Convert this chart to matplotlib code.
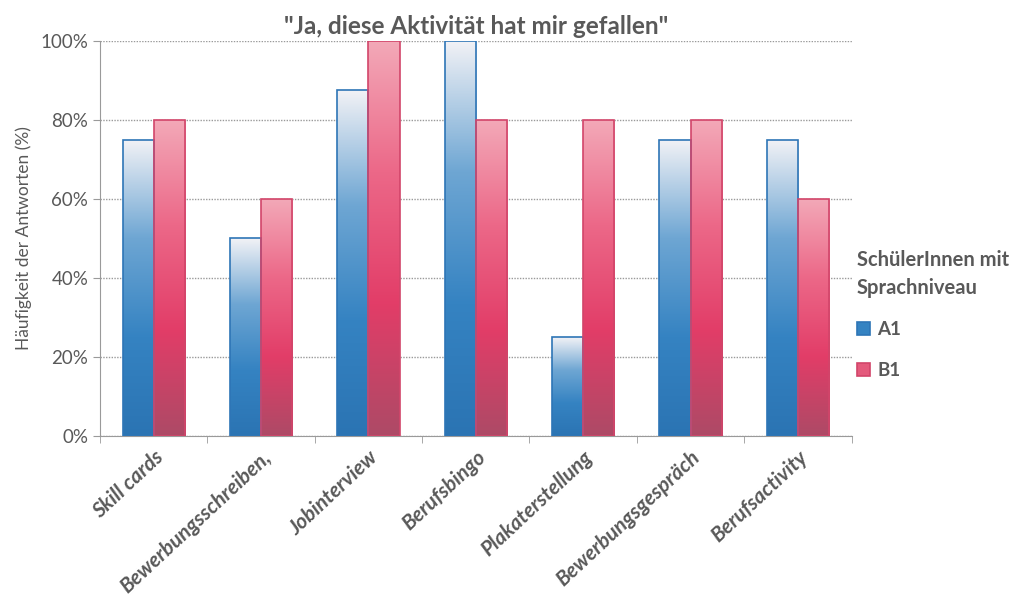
import numpy as np
import matplotlib
matplotlib.use('Agg')
import matplotlib.pyplot as plt
from matplotlib.colors import LinearSegmentedColormap
from matplotlib.ticker import FuncFormatter, FixedLocator

plt.rcParams['font.family'] = ['Lato', 'DejaVu Sans']

# data
categories = ["Skill cards", "Bewerbungsschreiben,", "Jobinterview", "Berufsbingo",
              "Plakaterstellung", "Bewerbungsgespräch", "Berufsactivity"]
a1 = [75, 50, 87.5, 100, 25, 75, 75]
b1 = [80, 60, 100, 80, 80, 80, 60]
series_names = ["A1", "B1"]

grey = '#595959'
cmap_a1 = LinearSegmentedColormap.from_list('a1', ['#2b74b3', '#3583c2', '#6ea6d3', '#f2f2f6'])
cmap_b1 = LinearSegmentedColormap.from_list('b1', ['#ad4a66', '#e23d68', '#ec6888', '#f3a9b8'])

fig = plt.figure(figsize=(10.31, 6.08), dpi=100)
ax = fig.add_axes([0.097, 0.283, 0.729, 0.650])

x = np.arange(len(categories))
w = 0.29
bars_a = ax.bar(x - w / 2, a1, w, color='none', edgecolor='#2e75b6', linewidth=1.2, zorder=3,
                label=series_names[0])
bars_b = ax.bar(x + w / 2, b1, w, color='none', edgecolor='#d2456a', linewidth=1.2, zorder=3,
                label=series_names[1])

grad = np.linspace(0, 1, 256).reshape(-1, 1)


def fill_gradient(bars, cmap):
    for b in bars:
        x0, y0 = b.get_x(), b.get_y()
        im = ax.imshow(grad, cmap=cmap, origin='lower', aspect='auto', zorder=2,
                       extent=[x0, x0 + b.get_width(), y0, y0 + b.get_height()])
        im.set_clip_path(b)


fill_gradient(bars_a, cmap_a1)
fill_gradient(bars_b, cmap_b1)

ax.set_xlim(-0.5, len(categories) - 0.5)
ax.set_ylim(0, 100)
ax.set_yticks(np.arange(0, 101, 20))
ax.yaxis.set_major_formatter(FuncFormatter(lambda v, p: "%d%%" % v))
ax.grid(axis='y', color='#9a9a9a', linestyle=(0, (1, 1)), linewidth=1, zorder=0)

ax.set_xticks(x)
ax.set_xticklabels(categories, rotation=43, ha='right', rotation_mode='anchor',
                   fontsize=15, fontweight='bold', fontstyle='italic', color=grey)
ax.xaxis.set_minor_locator(FixedLocator(np.arange(-0.5, len(categories), 1)))
ax.tick_params(axis='x', which='major', length=0, pad=8)
ax.tick_params(axis='x', which='minor', length=5, color='#9a9a9a', direction='out')
ax.tick_params(axis='y', length=5, color='#9a9a9a', labelsize=13.5, labelcolor=grey)

for s in ['top', 'right']:
    ax.spines[s].set_visible(False)
for s in ['left', 'bottom']:
    ax.spines[s].set_color('#9a9a9a')

ax.set_ylabel("Häufigkeit der Antworten (%)", fontsize=12.5, color=grey, labelpad=6)
ax.set_title('"Ja, diese Aktivität hat mir gefallen"', fontsize=17.5, fontweight='bold',
             color=grey, pad=5)

leg = ax.legend(loc='upper left', bbox_to_anchor=(0.997, 0.49), frameon=False,
                title="SchülerInnen mit\nSprachniveau", alignment='left',
                prop={'size': 13.5, 'weight': 'bold'}, handlelength=0.7, handleheight=0.7,
                handletextpad=0.4, labelspacing=1.25, borderaxespad=0.3, borderpad=0.1)
leg.get_title().set_fontweight('bold')
leg.get_title().set_fontsize(14.5)
leg.get_title().set_color(grey)
leg.get_title().set_linespacing(1.5)
for t in leg.get_texts():
    t.set_color(grey)
leg.legend_handles[0].set_facecolor('#3583c2')
leg.legend_handles[1].set_facecolor('#e45a7c')

fig.savefig('out.png', dpi=100)
